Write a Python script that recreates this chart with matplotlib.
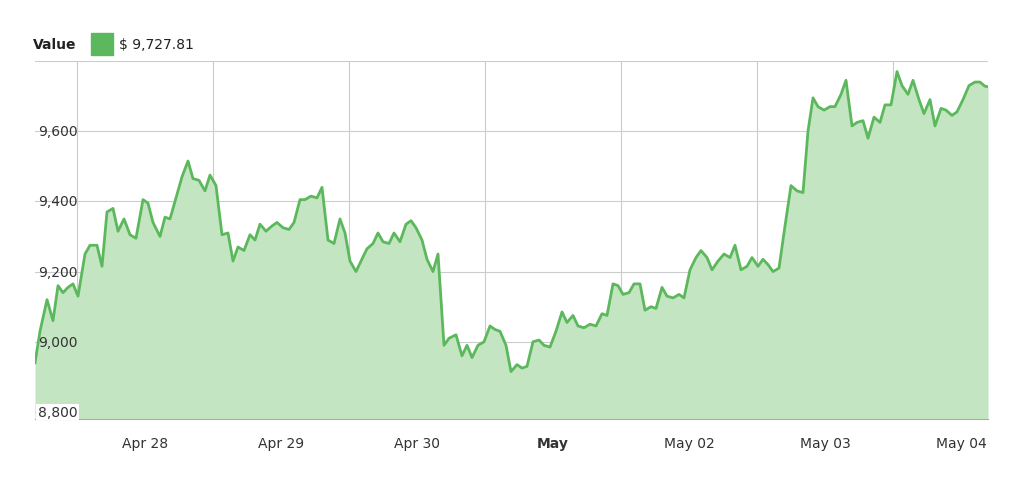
import matplotlib
matplotlib.use("Agg")
import matplotlib.pyplot as plt
import numpy as np

px = [35,40,47,53,58,63,68,73,78,85,90,97,102,107,113,118,124,130,136,143,148,153,160,165,170,176,182,188,193,199,205,210,216,222,228,233,238,244,250,255,260,266,272,277,283,289,294,300,305,311,317,322,328,334,340,345,350,356,361,367,373,378,383,389,394,400,406,411,416,422,427,433,438,444,449,456,462,467,472,478,484,490,495,500,506,511,517,522,527,533,539,544,550,556,562,567,573,578,584,590,596,602,607,613,618,623,629,634,640,645,651,656,662,667,673,679,684,690,696,701,707,712,718,724,730,735,741,747,752,758,763,768,773,779,785,791,797,803,808,813,818,824,830,835,841,846,852,857,863,868,874,880,885,891,897,902,908,913,919,924,930,935,941,946,952,957,963,969,975,980,985,988]
values = [8940,9030,9120,9060,9160,9140,9155,9165,9130,9250,9275,9275,9215,9370,9380,9315,9350,9305,9295,9405,9395,9340,9300,9355,9350,9410,9470,9515,9465,9460,9430,9475,9445,9305,9310,9230,9270,9260,9305,9290,9335,9315,9330,9340,9325,9320,9340,9405,9405,9415,9410,9440,9290,9280,9350,9310,9230,9200,9230,9265,9280,9310,9285,9280,9310,9285,9335,9345,9325,9290,9235,9200,9250,8990,9010,9020,8960,8990,8955,8990,9000,9045,9035,9030,8990,8915,8935,8925,8930,9000,9005,8990,8985,9030,9085,9055,9075,9045,9040,9050,9045,9080,9075,9165,9160,9135,9140,9165,9165,9090,9100,9095,9155,9130,9125,9135,9125,9205,9240,9260,9240,9205,9230,9250,9240,9275,9205,9215,9240,9215,9235,9220,9200,9210,9330,9445,9430,9425,9600,9695,9670,9660,9670,9670,9705,9745,9615,9625,9630,9580,9640,9625,9675,9675,9770,9730,9705,9745,9690,9650,9690,9615,9665,9660,9645,9655,9690,9730,9740,9740,9728,9727]
days = [(p - 145) / 136 for p in px]
tick_labels = ["Apr 28", "Apr 29", "Apr 30", "May", "May 02", "May 03", "May 04"]
y_ticks = [8800, 9000, 9200, 9400, 9600]
last_value = "$ 9,727.81"

fig = plt.figure(figsize=(10.24, 4.81), dpi=100)
ax = fig.add_axes([35/1024, 1-420/481, (988-35)/1024, (420-62)/481])
green = "#5cb85c"
ax.fill_between(days, values, 8780, color="#c3e5c1", lw=0)
ax.plot(days, values, color=green, lw=2)
ax.set_xlim(days[0], days[-1])
ax.set_ylim(8780, 9800)
for d in np.arange(-0.5, 6.5, 1):
    ax.axvline(d, color="#cccccc", lw=0.8, zorder=0)
for y in y_ticks + [9800]:
    ax.axhline(y, color="#cccccc", lw=0.8, zorder=0)
ax.set_xticks(range(len(tick_labels)))
ax.set_xticklabels(tick_labels, fontsize=10, color="#333333")
for t in ax.get_xticklabels():
    if t.get_text() == "May":
        t.set_fontweight("bold")
ax.tick_params(axis="x", length=0, pad=12)
ax.set_yticks([])
for y in y_ticks:
    ax.text(0.003, y, f"{y:,}", transform=ax.get_yaxis_transform(), fontsize=10,
            color="#333333", va="center", ha="left",
            bbox=dict(facecolor="white", edgecolor="none", pad=1) if y == 8800 else None)
for s in ["top", "right", "left"]:
    ax.spines[s].set_visible(False)
ax.spines["bottom"].set_color("#aaaaaa")
fig.text(33/1024, 1-45/481, "Value", fontsize=10, fontweight="bold", va="center", color="#222222")
fig.patches.append(plt.Rectangle((91/1024, 1-56/481), 22/1024, 22/481, color=green, transform=fig.transFigure))
fig.text(119/1024, 1-45/481, last_value, fontsize=10, va="center", color="#222222")
fig.savefig("out.png")
